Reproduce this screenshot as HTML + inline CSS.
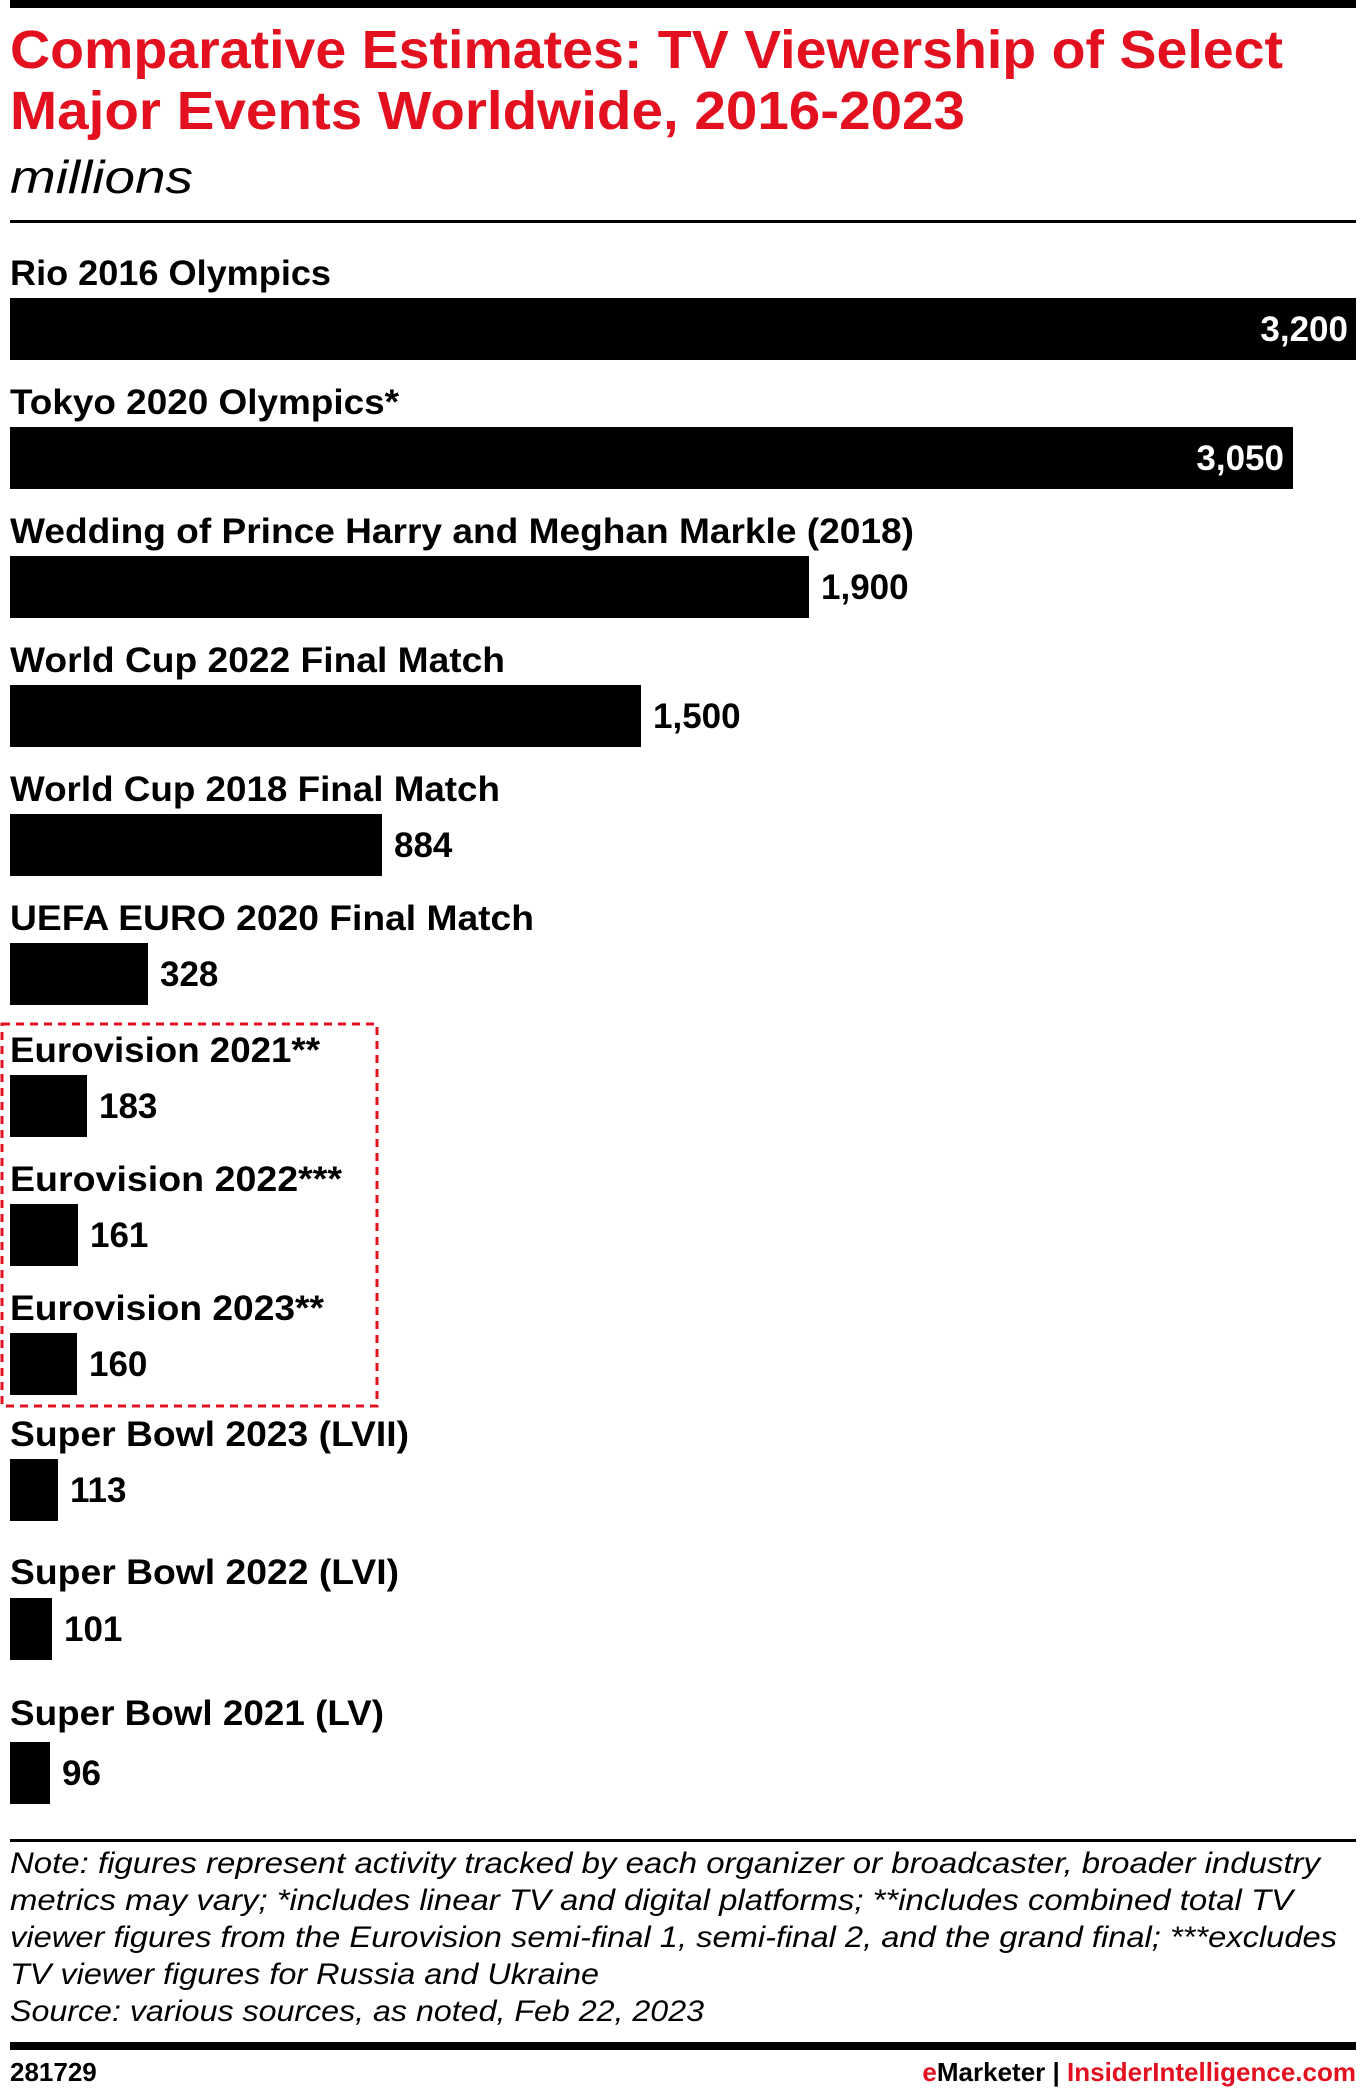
<!DOCTYPE html>
<html><head><meta charset="utf-8"><style>
html,body{margin:0;padding:0;background:#fff;}
svg{display:block;font-family:"Liberation Sans",Arial,sans-serif;}
</style></head><body>
<svg width="1361" height="2090" viewBox="0 0 1361 2090" xmlns="http://www.w3.org/2000/svg">
<rect x="10" y="0" width="1346" height="8" fill="#000"/>
<text x="10" y="68" font-size="54" font-weight="bold" fill="#e3101f" textLength="1273" lengthAdjust="spacingAndGlyphs">Comparative Estimates: TV Viewership of Select</text>
<text x="10" y="129" font-size="54" font-weight="bold" fill="#e3101f" textLength="955" lengthAdjust="spacingAndGlyphs">Major Events Worldwide, 2016-2023</text>
<text x="10" y="193" font-size="46" font-style="italic" fill="#000" textLength="183" lengthAdjust="spacingAndGlyphs">millions</text>
<rect x="10" y="220" width="1346" height="3" fill="#000"/>

<g font-size="35" font-weight="bold" fill="#000">
<text x="10" y="285" textLength="321" lengthAdjust="spacingAndGlyphs">Rio 2016 Olympics</text>
<rect x="10" y="298" width="1346" height="62"/>
<text x="1348" y="341" fill="#fff" text-anchor="end">3,200</text>

<text x="10" y="414" textLength="389" lengthAdjust="spacingAndGlyphs">Tokyo 2020 Olympics*</text>
<rect x="10" y="427" width="1283" height="62"/>
<text x="1284" y="470" fill="#fff" text-anchor="end">3,050</text>

<text x="10" y="543" textLength="904" lengthAdjust="spacingAndGlyphs">Wedding of Prince Harry and Meghan Markle (2018)</text>
<rect x="10" y="556" width="799" height="62"/>
<text x="821" y="599">1,900</text>

<text x="10" y="672" textLength="495" lengthAdjust="spacingAndGlyphs">World Cup 2022 Final Match</text>
<rect x="10" y="685" width="631" height="62"/>
<text x="653" y="728">1,500</text>

<text x="10" y="801" textLength="490" lengthAdjust="spacingAndGlyphs">World Cup 2018 Final Match</text>
<rect x="10" y="814" width="372" height="62"/>
<text x="394" y="857">884</text>

<text x="10" y="930" textLength="524" lengthAdjust="spacingAndGlyphs">UEFA EURO 2020 Final Match</text>
<rect x="10" y="943" width="138" height="62"/>
<text x="160" y="986">328</text>

<text x="10" y="1062" textLength="310" lengthAdjust="spacingAndGlyphs">Eurovision 2021**</text>
<rect x="10" y="1075" width="77" height="62"/>
<text x="99" y="1118">183</text>

<text x="10" y="1191" textLength="332" lengthAdjust="spacingAndGlyphs">Eurovision 2022***</text>
<rect x="10" y="1204" width="68" height="62"/>
<text x="90" y="1247">161</text>

<text x="10" y="1320" textLength="314" lengthAdjust="spacingAndGlyphs">Eurovision 2023**</text>
<rect x="10" y="1333" width="67" height="62"/>
<text x="89" y="1376">160</text>

<text x="10" y="1446" textLength="399" lengthAdjust="spacingAndGlyphs">Super Bowl 2023 (LVII)</text>
<rect x="10" y="1459" width="48" height="62"/>
<text x="70" y="1502">113</text>

<text x="10" y="1584" textLength="389" lengthAdjust="spacingAndGlyphs">Super Bowl 2022 (LVI)</text>
<rect x="10" y="1598" width="42" height="62"/>
<text x="64" y="1641">101</text>

<text x="10" y="1725" textLength="374" lengthAdjust="spacingAndGlyphs">Super Bowl 2021 (LV)</text>
<rect x="10" y="1742" width="40" height="62"/>
<text x="62" y="1785">96</text>
</g>

<rect x="2" y="1024" width="375" height="382" fill="none" stroke="#e3101f" stroke-width="3" stroke-dasharray="8 6"/>

<rect x="10" y="1839" width="1346" height="3" fill="#000"/>
<g font-size="30" font-style="italic" fill="#000">
<text x="10" y="1873" textLength="1310" lengthAdjust="spacingAndGlyphs">Note: figures represent activity tracked by each organizer or broadcaster, broader industry</text>
<text x="10" y="1910" textLength="1283" lengthAdjust="spacingAndGlyphs">metrics may vary; *includes linear TV and digital platforms; **includes combined total TV</text>
<text x="10" y="1947" textLength="1327" lengthAdjust="spacingAndGlyphs">viewer figures from the Eurovision semi-final 1, semi-final 2, and the grand final; ***excludes</text>
<text x="10" y="1984" textLength="589" lengthAdjust="spacingAndGlyphs">TV viewer figures for Russia and Ukraine</text>
<text x="10" y="2021" textLength="694" lengthAdjust="spacingAndGlyphs">Source: various sources, as noted, Feb 22, 2023</text>
</g>
<rect x="10" y="2042" width="1346" height="8" fill="#000"/>
<g font-size="26" font-weight="bold">
<text x="10" y="2081" fill="#000">281729</text>
<text x="1356" y="2081" text-anchor="end"><tspan fill="#e3101f">e</tspan><tspan fill="#000">Marketer  |  </tspan><tspan fill="#e3101f">InsiderIntelligence.com</tspan></text>
</g>
</svg>
</body></html>
